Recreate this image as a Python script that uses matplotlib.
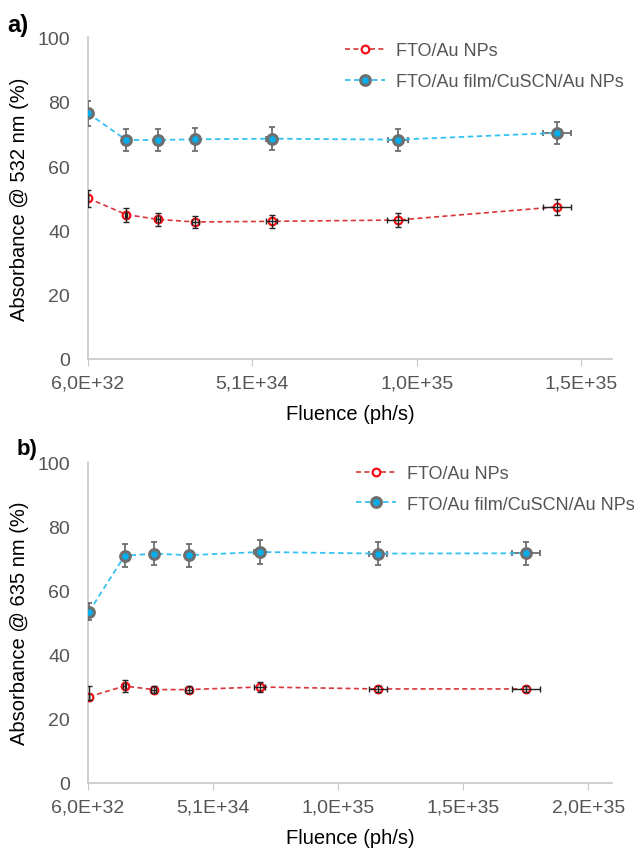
import matplotlib
matplotlib.use("Agg")
import matplotlib.pyplot as plt

plt.rcParams['font.family'] = ['Liberation Sans', 'DejaVu Sans']

# panel a) absorbance @ 532 nm
a_x_np = [6.0e32, 1.22e34, 2.19e34, 3.33e34, 5.65e34, 9.49e34, 1.433e35]
a_y_np = [50.0, 44.9, 43.4, 42.6, 42.8, 43.2, 47.3]
a_yerr_np = [2.6, 2.2, 2.1, 2.0, 2.0, 2.1, 2.4]
a_xerr_np = [0, 4e32, 7e32, 1.0e33, 1.7e33, 3.2e33, 4.3e33]

a_x_film = [6.0e32, 1.22e34, 2.19e34, 3.33e34, 5.65e34, 9.49e34, 1.433e35]
a_y_film = [76.4, 68.1, 68.1, 68.3, 68.5, 68.2, 70.3]
a_yerr_film = [3.9, 3.5, 3.5, 3.5, 3.5, 3.4, 3.5]
a_xerr_film = [0, 4e32, 7e32, 1.0e33, 1.7e33, 3.0e33, 4.3e33]

# panel b) absorbance @ 635 nm
b_x_np = [1.0e33, 1.52e34, 2.68e34, 4.08e34, 6.92e34, 1.165e35, 1.756e35]
b_y_np = [26.9, 30.2, 29.1, 29.1, 29.9, 29.3, 29.3]
b_yerr_np_low = [1.0, 1.8, 1.0, 1.2, 1.5, 1.0, 1.0]
b_yerr_np_high = [3.3, 1.8, 1.0, 1.2, 1.5, 1.0, 1.0]
b_xerr_np = [0, 5e32, 9e32, 1.3e33, 2.2e33, 3.7e33, 5.5e33]

b_x_film = [1.0e33, 1.52e34, 2.68e34, 4.08e34, 6.92e34, 1.165e35, 1.756e35]
b_y_film = [53.4, 70.8, 71.5, 71.0, 72.0, 71.5, 71.6]
b_yerr_film = [2.6, 3.6, 3.6, 3.6, 3.6, 3.6, 3.6]
b_xerr_film = [0, 5e32, 9e32, 1.3e33, 2.2e33, 3.7e33, 5.5e33]

a_ticks = [6.0e32, 5.06e34, 1.006e35, 1.506e35]
a_ticklabels = ['6,0E+32', '5,1E+34', '1,0E+35', '1,5E+35']
b_ticks = [6.0e32, 5.06e34, 1.006e35, 1.506e35, 2.006e35]
b_ticklabels = ['6,0E+32', '5,1E+34', '1,0E+35', '1,5E+35', '2,0E+35']
y_ticks = [0, 20, 40, 60, 80, 100]

red_line = '#D8343A'
red_edge = '#F40F17'
blue_line = '#35C2F2'
blue_fill = '#07AEEC'
gray = '#6E6E6E'
axis_gray = '#C8C8C8'
tick_gray = '#555555'

fig = plt.figure(figsize=(6.38, 8.53), dpi=100)
ax1 = fig.add_axes([0.138, 0.578, 0.821, 0.377])
ax2 = fig.add_axes([0.138, 0.081, 0.821, 0.376])


def draw(ax, xn, yn, xen, yen, xf, yf, xef, yef, ticks, labels, xmax, ylab, leg_xy):
    ax.plot(xn, yn, linestyle=(0, (3, 2)), color=red_line, lw=1.2,
            marker='o', markersize=5.5, markerfacecolor='white',
            markeredgecolor=red_edge, markeredgewidth=1.6, zorder=4,
            label='FTO/Au NPs')
    ax.errorbar(xn, yn, yerr=yen, xerr=xen, fmt='none', ecolor='#222222',
                elinewidth=1.0, capsize=2.5, capthick=1.0, zorder=5)
    ax.errorbar(xf, yf, yerr=yef, xerr=xef, fmt='none', ecolor=gray,
                elinewidth=1.3, capsize=2.5, capthick=1.3, zorder=3)
    ax.plot(xf, yf, linestyle=(0, (3, 2)), color=blue_line, lw=1.3,
            marker='o', markersize=7, markerfacecolor=blue_fill,
            markeredgecolor=gray, markeredgewidth=2.2, zorder=4,
            label='FTO/Au film/CuSCN/Au NPs')
    ax.set_xlim(6.0e32, xmax)
    ax.set_ylim(0, 100)
    ax.set_xticks(ticks)
    ax.set_xticklabels(labels)
    ax.set_yticks(y_ticks)
    for s in ['top', 'right']:
        ax.spines[s].set_visible(False)
    for s in ['left', 'bottom']:
        ax.spines[s].set_color(axis_gray)
        ax.spines[s].set_linewidth(1.2)
    ax.tick_params(axis='x', direction='out', length=5, color=axis_gray,
                   labelsize=14, labelcolor=tick_gray, pad=6)
    ax.tick_params(axis='y', length=0, labelsize=14, labelcolor=tick_gray, pad=13)
    ax.set_xlabel('Fluence (ph/s)', fontsize=14.5, labelpad=9)
    ax.set_ylabel(ylab, fontsize=14.5, labelpad=6)
    leg = ax.legend(loc='upper right', bbox_to_anchor=leg_xy, frameon=False,
                    fontsize=13, handlelength=2.2, handletextpad=0.6,
                    labelspacing=0.75)
    for t in leg.get_texts():
        t.set_color(tick_gray)


draw(ax1, a_x_np, a_y_np, a_xerr_np, a_yerr_np,
     a_x_film, a_y_film, a_xerr_film, a_yerr_film,
     a_ticks, a_ticklabels, 1.6e35, 'Absorbance @ 532 nm (%)', (1.053, 1.035))
draw(ax2, b_x_np, b_y_np, b_xerr_np, [b_yerr_np_low, b_yerr_np_high],
     b_x_film, b_y_film, b_xerr_film, b_yerr_film,
     b_ticks, b_ticklabels, 2.1e35, 'Absorbance @ 635 nm (%)', (1.074, 1.042))

fig.text(0.012, 0.962, 'a)', fontsize=17, fontweight='bold')
fig.text(0.026, 0.467, 'b)', fontsize=16, fontweight='bold')

fig.savefig('out.png', dpi=100)
